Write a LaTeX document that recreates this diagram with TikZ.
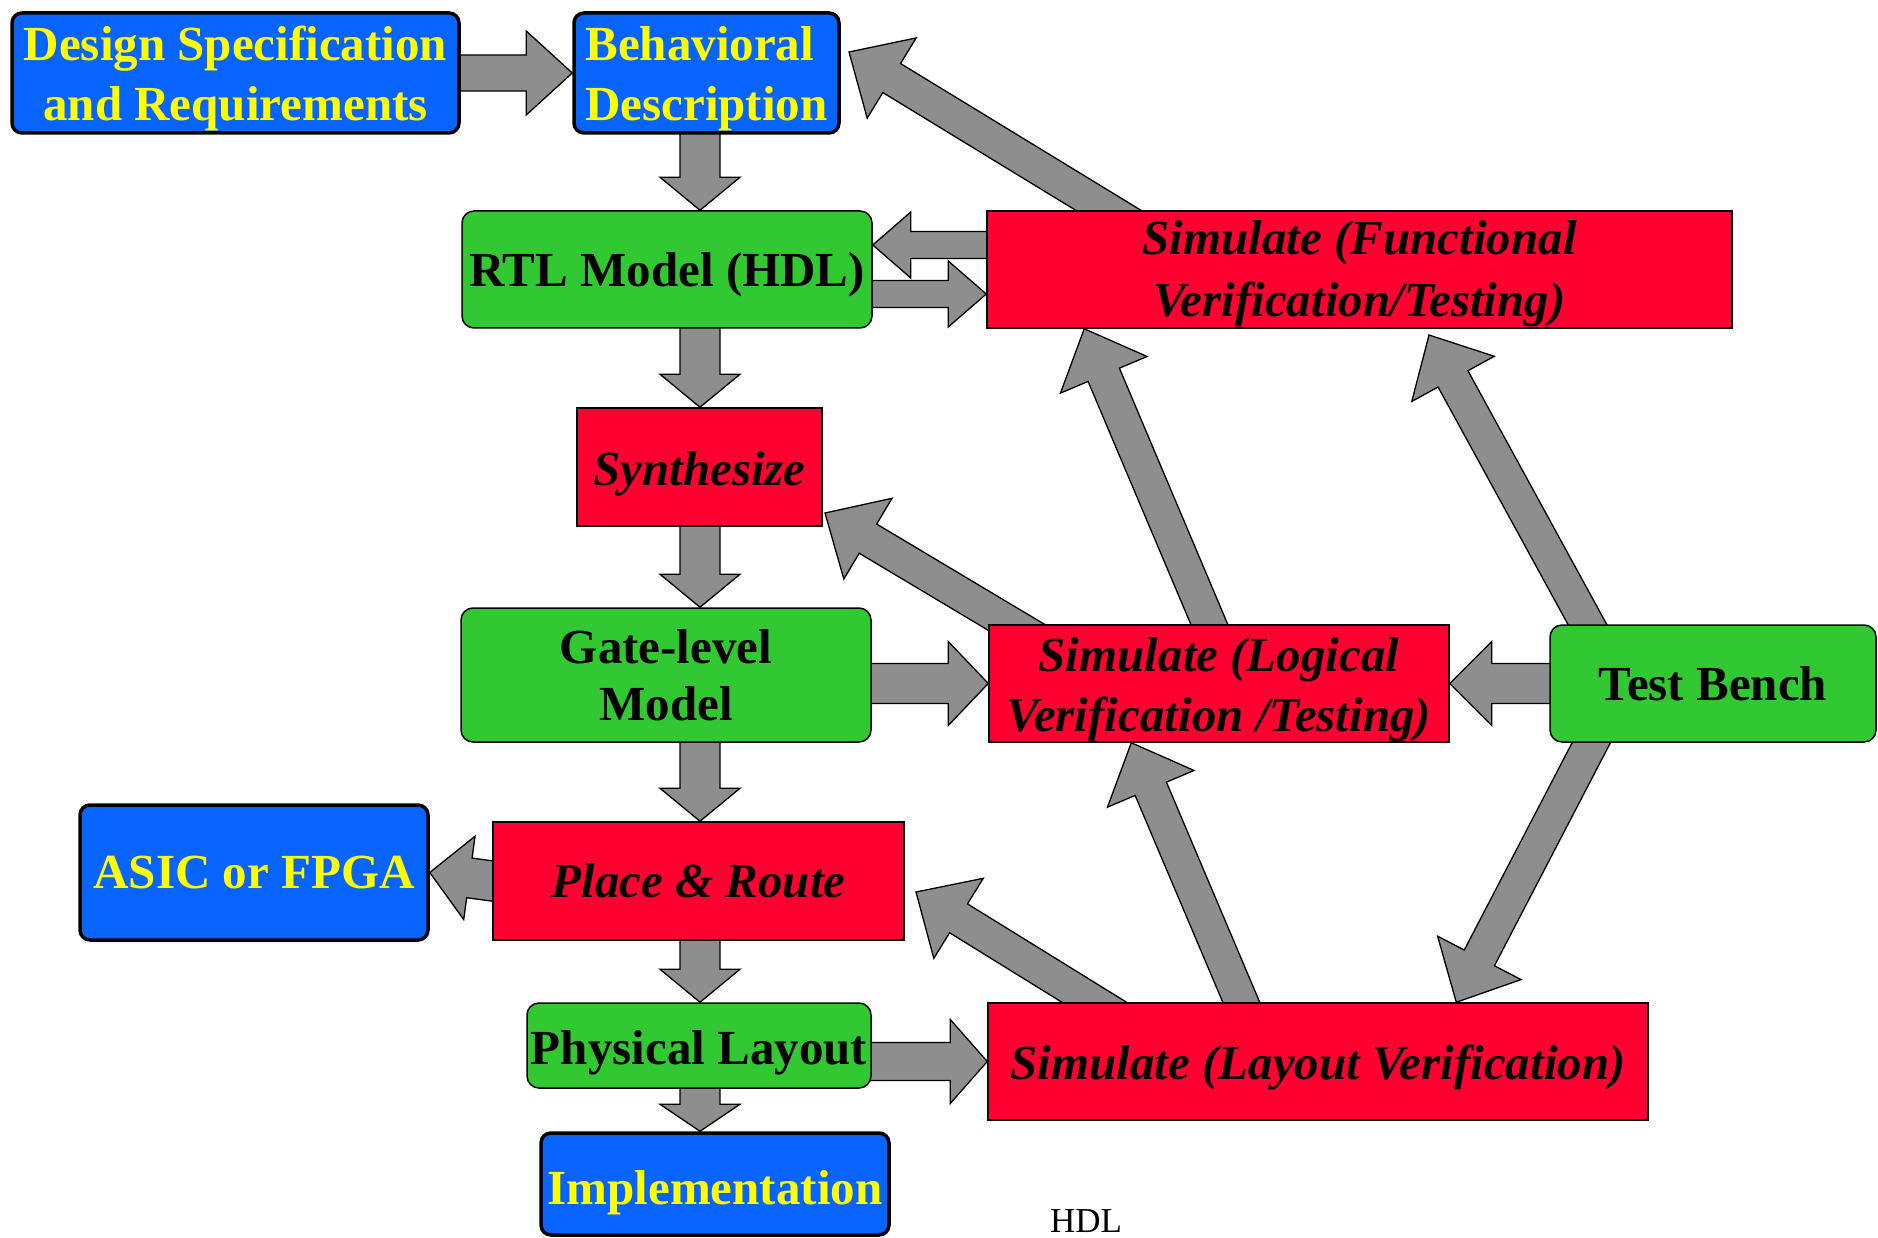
\documentclass[tikz,border=0pt]{standalone}
\usepackage{fontspec}
\setmainfont{Liberation Serif}
\usetikzlibrary{calc,backgrounds}
\definecolor{myblue}{RGB}{8,100,255}
\definecolor{mygreen}{RGB}{50,200,50}
\definecolor{myred}{RGB}{255,0,48}
\definecolor{myyellow}{RGB}{255,255,0}
\definecolor{mygray}{RGB}{142,142,142}
% block arrow: tail, tip, shaft half width, head half width, head length
\newcommand\barr[5]{%
  \coordinate (ba-t) at ($(#1)!-40pt!(#2)$);
  \coordinate (ba-h) at ($(#2)!#5!(#1)$);
  \draw[blockarrow] ($(ba-t)!#3!90:(#2)$) -- ($(ba-h)!#3!90:(#2)$) -- ($(ba-h)!#4!90:(#2)$) -- (#2) -- ($(ba-h)!#4!-90:(#2)$) -- ($(ba-h)!#3!-90:(#2)$) -- ($(ba-t)!#3!-90:(#2)$) -- cycle;}
% text lowered inside its box: [column spec]{shift}{lines}
\newcommand\lowtxt[3][c]{\raisebox{-#2}[\height][\depth]{\begin{tabular}{@{}#1@{}}#3\end{tabular}}}
\begin{document}
\begin{tikzpicture}[x=1pt,y=-1pt,
  bluebox/.style={draw=black, line width=3.5pt, fill=myblue, rounded corners=10pt, text=myyellow, font=\fontsize{49}{60}\selectfont\bfseries, inner xsep=0pt, inner ysep=-6pt, align=center},
  greenbox/.style={draw=black, line width=1.5pt, fill=mygreen, rounded corners=12pt, font=\fontsize{49}{60}\selectfont\bfseries, inner xsep=0pt, inner ysep=-6pt, align=center},
  redbox/.style={draw=black, line width=1.5pt, fill=myred, font=\fontsize{49}{60}\selectfont\bfseries\itshape, inner xsep=0pt, inner ysep=-6pt, align=center},
  blockarrow/.style={draw=black, line width=1.3pt, fill=mygray, line join=miter}]
\useasboundingbox (0,0) rectangle (1878,1238);
% nodes
\node[bluebox, minimum width=447pt, minimum height=120pt] (design) at (235.5,73) {\lowtxt{6pt}{Design Specification\\and Requirements}};
\node[bluebox, minimum width=265pt, minimum height=120pt] (beh) at (706.5,73) {\lowtxt[l]{6pt}{Behavioral\\Description}};
\node[greenbox, minimum width=410pt, minimum height=117pt] (rtl) at (667,269.5) {\lowtxt{5.5pt}{RTL Model (HDL)}};
\node[redbox, minimum width=745pt, minimum height=117pt, font=\fontsize{49}{62}\selectfont\bfseries\itshape] (simf) at (1359.5,269.5) {\lowtxt{4pt}{Simulate (Functional\\Verification/Testing)}};
\node[redbox, minimum width=245pt, minimum height=118pt] (syn) at (699.5,467) {\lowtxt{6.5pt}{Synthesize}};
\node[greenbox, minimum width=410pt, minimum height=134pt, font=\fontsize{49}{57}\selectfont\bfseries] (gate) at (666,675) {Gate-level\\Model};
\node[redbox, minimum width=460pt, minimum height=117pt] (siml) at (1219,683.5) {\lowtxt{6pt}{Simulate (Logical\\Verification /Testing)}};
\node[greenbox, minimum width=326pt, minimum height=117pt] (tb) at (1713,683.5) {Test Bench};
\node[bluebox, minimum width=348pt, minimum height=135pt] (asic) at (254,872.5) {ASIC or FPGA};
\node[redbox, minimum width=411pt, minimum height=118pt] (pr) at (698.5,881) {Place \& Route};
\node[greenbox, minimum width=344pt, minimum height=85pt] (phys) at (699,1045.5) {\lowtxt{6.5pt}{Physical Layout}};
\node[redbox, minimum width=660pt, minimum height=117pt] (simlay) at (1318,1061.5) {\lowtxt{5.5pt}{Simulate (Layout Verification)}};
\node[bluebox, minimum width=348pt, minimum height=102pt] (impl) at (715,1184) {\lowtxt{8.5pt}{Implementation}};
\node[font=\fontsize{35}{40}\selectfont] (hdl) at (1086,1221) {HDL};
% connector end points
\coordinate (ax) at (700,0);
\coordinate (v1a) at (beh.south -| ax);  \coordinate (v1b) at (rtl.north -| ax);
\coordinate (v2a) at (rtl.south -| ax);  \coordinate (v2b) at (syn.north -| ax);
\coordinate (v3a) at (syn.south -| ax);  \coordinate (v3b) at (gate.north -| ax);
\coordinate (v4a) at (gate.south -| ax); \coordinate (v4b) at (pr.north -| ax);
\coordinate (v5a) at (pr.south -| ax);   \coordinate (v5b) at (phys.north -| ax);
\coordinate (v6a) at (phys.south -| ax); \coordinate (v6b) at (impl.north -| ax);
\coordinate (h3a) at ([yshift=24.5pt]simf.west); \coordinate (h3b) at (rtl.east |- h3a);
\coordinate (h4a) at ([yshift=-24.5pt]rtl.east); \coordinate (h4b) at (simf.west |- h4a);
\coordinate (h5a) at (siml.west -| gate.east);
\coordinate (h7a) at (simlay.west -| phys.east);
\coordinate (d13a) at ([xshift=122pt]simf.north west); \coordinate (d13b) at (849,52);
\coordinate (d14a) at ([xshift=221pt]siml.north west); \coordinate (d14b) at ([xshift=98pt]simf.south west);
\coordinate (d15a) at ([xshift=38pt]tb.north west);    \coordinate (d15b) at (1429,335);
\coordinate (d16a) at ([xshift=23pt]siml.north west);  \coordinate (d16b) at (825,513);
\coordinate (d17a) at ([xshift=254pt]simlay.north west); \coordinate (d17b) at ([xshift=143pt]siml.south west);
\coordinate (d18a) at ([xshift=107pt]simlay.north west); \coordinate (d18b) at (916,892);
\coordinate (d19a) at ([xshift=42pt]tb.south west);    \coordinate (d19b) at ([xshift=469pt]simlay.north west);
\begin{scope}[on background layer]
  \barr{design.east}{beh.west}{18pt}{42pt}{46pt}
  \barr{v1a}{v1b}{20pt}{40pt}{33pt}
  \barr{v2a}{v2b}{20pt}{40pt}{33pt}
  \barr{v3a}{v3b}{20pt}{40pt}{33pt}
  \barr{v4a}{v4b}{20pt}{40pt}{33pt}
  \barr{v5a}{v5b}{20pt}{40pt}{33pt}
  \barr{v6a}{v6b}{20pt}{40pt}{27pt}
  \barr{pr.west}{asic.east}{20pt}{42pt}{40pt}
  \barr{h3a}{h3b}{13.5pt}{33pt}{38pt}
  \barr{h4a}{h4b}{13.5pt}{33pt}{38pt}
  \barr{h5a}{siml.west}{20pt}{42pt}{40pt}
  \barr{tb.west}{siml.east}{20pt}{42pt}{42pt}
  \barr{h7a}{simlay.west}{19pt}{42pt}{37pt}
  \barr{d13a}{d13b}{17pt}{47pt}{50pt}
  \barr{d14a}{d14b}{17pt}{47pt}{50pt}
  \barr{d15a}{d15b}{17pt}{47pt}{50pt}
  \barr{d16a}{d16b}{17pt}{47pt}{50pt}
  \barr{d17a}{d17b}{17pt}{47pt}{50pt}
  \barr{d18a}{d18b}{17pt}{47pt}{50pt}
  \barr{d19a}{d19b}{17pt}{47pt}{50pt}
\end{scope}
\end{tikzpicture}
\end{document}
